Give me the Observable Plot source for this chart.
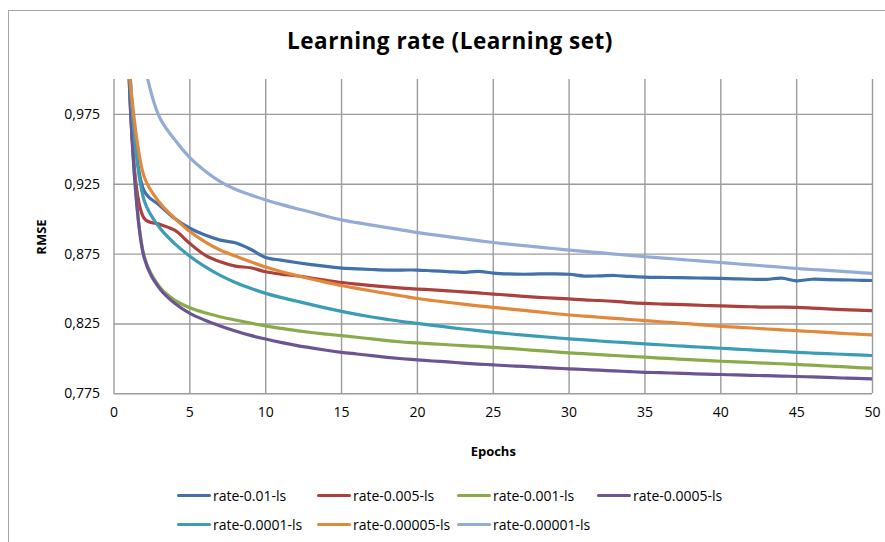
<!DOCTYPE html>
<html>
<head>
<meta charset="utf-8">
<script src="https://cdn.jsdelivr.net/npm/d3@7"></script>
<script src="https://cdn.jsdelivr.net/npm/@observablehq/plot@0.6"></script>
<style>
  html, body { margin: 0; padding: 0; background: #fff; overflow: hidden; }
  #chart { position: relative; width: 885px; height: 542px; overflow: hidden; font-family: "Open Sans", sans-serif; color: #000; }
  #frame { position: absolute; left: 8px; top: 10px; width: 900px; height: 600px; border: 1.5px solid #a6a6a6; box-sizing: border-box; }
  #title { position: absolute; left: 0; width: 900px; top: 25px; text-align: center; font-weight: 700; font-size: 22.5px; letter-spacing: 0.5px; }
  #plot { position: absolute; left: 0; top: 0; }
  #legend { position: absolute; left: 0; top: 0; }
  .item { position: absolute; display: flex; align-items: center; font-size: 14px; white-space: nowrap; }
  .swatch { width: 34px; height: 3.5px; margin-right: 2px; border-radius: 2px; }
</style>
</head>
<body>
<div id="chart">
  <div id="frame"></div>
  <div id="title">Learning rate (Learning set)</div>
  <div id="plot"></div>
  <div id="legend"></div>
</div>
<script>
// RMSE on the learning set per epoch, one array per learning rate
const epochs = d3.range(1, 51);
const seriesNames = ["rate-0.01-ls", "rate-0.005-ls", "rate-0.001-ls", "rate-0.0005-ls",
                     "rate-0.0001-ls", "rate-0.00005-ls", "rate-0.00001-ls"];
const seriesColors = ["#4170ab", "#ab403d", "#8bab4a", "#6c5393", "#3b9cb5", "#e3873a", "#93abd5"];

const rate001 = [1.02, 0.920, 0.910, 0.9005, 0.8935, 0.8886, 0.8850, 0.8831, 0.8785, 0.8726,
  0.8707, 0.8690, 0.8675, 0.8662, 0.8650, 0.8645, 0.8640, 0.8636, 0.8636, 0.8636,
  0.8630, 0.8625, 0.8619, 0.8627, 0.8614, 0.8608, 0.8606, 0.8608, 0.8609, 0.8606,
  0.8593, 0.8594, 0.8597, 0.8590, 0.8585, 0.8583, 0.8582, 0.8580, 0.8578, 0.8576,
  0.8573, 0.8570, 0.8569, 0.8578, 0.8559, 0.8570, 0.8568, 0.8566, 0.8563, 0.8561];
const rate0005 = [1.02, 0.9005, 0.8964, 0.8921, 0.8826, 0.8743, 0.8695, 0.8664, 0.8652, 0.8624,
  0.8607, 0.8595, 0.8578, 0.8562, 0.8547, 0.8535, 0.8524, 0.8515, 0.8507, 0.8500,
  0.8494, 0.8487, 0.8480, 0.8472, 0.8464, 0.8456, 0.8447, 0.8440, 0.8435, 0.8429,
  0.8422, 0.8418, 0.8412, 0.8403, 0.8397, 0.8393, 0.8390, 0.8386, 0.8382, 0.8379,
  0.8376, 0.8373, 0.8370, 0.8370, 0.8369, 0.8364, 0.8358, 0.8353, 0.8349, 0.8345];
const rate0001 = [1.0, 0.873, 0.8517, 0.8421, 0.8366, 0.8330, 0.8302, 0.8278, 0.8256, 0.8236,
  0.8218, 0.8203, 0.8189, 0.8177, 0.8166, 0.8155, 0.8143, 0.8131, 0.8121, 0.8114,
  0.8108, 0.8101, 0.8095, 0.8089, 0.8083, 0.8075, 0.8067, 0.8059, 0.8051, 0.8043,
  0.8037, 0.8031, 0.8024, 0.8018, 0.8012, 0.8006, 0.8000, 0.7994, 0.7989, 0.7983,
  0.7978, 0.7974, 0.7969, 0.7965, 0.7960, 0.7955, 0.7949, 0.7944, 0.7938, 0.7933];
const rate00005 = [1.0, 0.872, 0.8505, 0.8398, 0.8326, 0.8277, 0.8236, 0.8200, 0.8168, 0.8142,
  0.8118, 0.8097, 0.8079, 0.8062, 0.8047, 0.8035, 0.8023, 0.8011, 0.8001, 0.7993,
  0.7985, 0.7978, 0.7970, 0.7963, 0.7957, 0.7951, 0.7946, 0.7940, 0.7934, 0.7929,
  0.7924, 0.7919, 0.7914, 0.7909, 0.7904, 0.7901, 0.7898, 0.7894, 0.7891, 0.7888,
  0.7885, 0.7882, 0.7880, 0.7877, 0.7874, 0.7871, 0.7867, 0.7863, 0.7860, 0.7857];
const rate00001 = [1.005, 0.913, 0.8940, 0.8825, 0.8735, 0.8660, 0.8598, 0.8547, 0.8505, 0.8469,
  0.8440, 0.8414, 0.8388, 0.8363, 0.8340, 0.8319, 0.8300, 0.8283, 0.8267, 0.8254,
  0.8240, 0.8227, 0.8214, 0.8202, 0.8190, 0.8180, 0.8170, 0.8161, 0.8152, 0.8143,
  0.8136, 0.8128, 0.8121, 0.8114, 0.8107, 0.8101, 0.8094, 0.8088, 0.8082, 0.8076,
  0.8070, 0.8064, 0.8058, 0.8053, 0.8047, 0.8042, 0.8037, 0.8033, 0.8028, 0.8024];
const rate000005 = [1.008, 0.930, 0.912, 0.9008, 0.8912, 0.8838, 0.8779, 0.8736, 0.8695, 0.8657,
  0.8625, 0.8598, 0.8572, 0.8548, 0.8525, 0.8505, 0.8486, 0.8468, 0.8450, 0.8432,
  0.8418, 0.8405, 0.8392, 0.8380, 0.8369, 0.8358, 0.8347, 0.8336, 0.8325, 0.8314,
  0.8306, 0.8298, 0.8290, 0.8282, 0.8274, 0.8266, 0.8258, 0.8250, 0.8241, 0.8233,
  0.8227, 0.8221, 0.8214, 0.8208, 0.8202, 0.8196, 0.8190, 0.8183, 0.8177, 0.8171];
const rate000001 = [1.09, 1.011, 0.973, 0.957, 0.944, 0.9345, 0.9269, 0.9214, 0.9174, 0.9138,
  0.9106, 0.9077, 0.9050, 0.9021, 0.8995, 0.8975, 0.8957, 0.8940, 0.8922, 0.8904,
  0.8890, 0.8875, 0.8861, 0.8847, 0.8833, 0.8822, 0.8811, 0.8800, 0.8790, 0.8779,
  0.8769, 0.8760, 0.8750, 0.8741, 0.8731, 0.8723, 0.8715, 0.8706, 0.8698, 0.8690,
  0.8681, 0.8673, 0.8664, 0.8656, 0.8647, 0.8640, 0.8633, 0.8626, 0.8619, 0.8612];

const yTicks = [0.775, 0.825, 0.875, 0.925, 0.975];
const xTicks = [0, 5, 10, 15, 20, 25, 30, 35, 40, 45, 50];

const seriesValues = [rate001, rate0005, rate0001, rate00005, rate00001, rate000005, rate000001];
const rows = seriesNames.flatMap((name, i) =>
  epochs.map((epoch, j) => ({series: name, epoch, rmse: seriesValues[i][j]})));

const commaFmt = d => d.toFixed(3).replace(".", ",");
const gridColor = "#9c9c9c";

const chart = Plot.plot({
  width: 885,
  height: 542,
  marginLeft: 113.5,
  marginRight: 13,
  marginTop: 79,
  marginBottom: 148.7,
  style: {fontFamily: "Open Sans, sans-serif", fontSize: "14px", color: "#000", background: "transparent", overflow: "visible"},
  x: {domain: [0, 50], ticks: xTicks, tickSize: 0, tickPadding: 13, label: null},
  y: {domain: [0.775, 1.0], ticks: yTicks, tickSize: 0, tickPadding: 14, tickFormat: commaFmt, label: null},
  color: {domain: seriesNames, range: seriesColors},
  marks: [
    Plot.ruleY(yTicks, {stroke: gridColor, strokeWidth: 1.4}),
    Plot.ruleX(xTicks, {stroke: gridColor, strokeWidth: 1.4}),
    Plot.line(rows, {x: "epoch", y: "rmse", z: "series", stroke: "series",
      strokeWidth: 3.2, curve: "catmull-rom", clip: true}),
    Plot.axisX({ticks: xTicks, tickSize: 0, tickPadding: 13, label: null}),
    Plot.axisY({ticks: yTicks, tickSize: 0, tickPadding: 14, tickFormat: commaFmt, label: null}),
    Plot.text(["Epochs"], {frameAnchor: "bottom", dy: 62, fontWeight: 700, fontSize: 13}),
    Plot.text(["RMSE"], {frameAnchor: "left", dx: -72, rotate: -90, fontWeight: 700, fontSize: 13, dy: 18})
  ]
});
document.getElementById("plot").appendChild(chart);

// Legend: two rows, four columns
const legend = document.getElementById("legend");
seriesNames.forEach((name, i) => {
  const item = document.createElement("div");
  item.className = "item";
  item.style.left = (177 + (i % 4) * 140) + "px";
  item.style.top = (486 + Math.floor(i / 4) * 29) + "px";
  const sw = document.createElement("span");
  sw.className = "swatch";
  sw.style.background = seriesColors[i];
  const label = document.createElement("span");
  label.textContent = name;
  item.appendChild(sw);
  item.appendChild(label);
  legend.appendChild(item);
});
</script>
</body>
</html>
